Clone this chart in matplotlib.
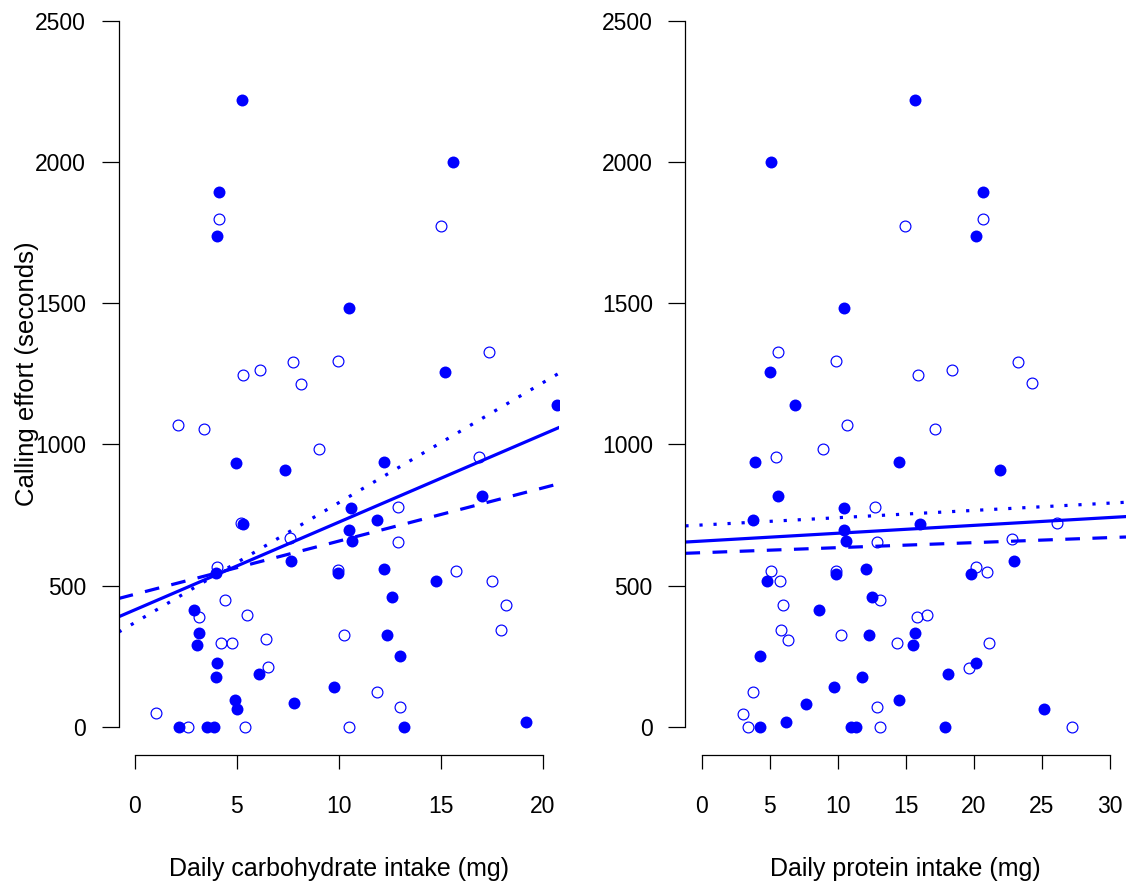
import matplotlib
matplotlib.use("Agg")
import matplotlib.pyplot as plt

plt.rcParams['font.family'] = ['Liberation Sans', 'DejaVu Sans']

# calling effort vs carbohydrate intake
carb_filled_x = [5.25, 15.59, 4.12, 4.03, 10.5, 15.2, 20.69, 4.94, 7.34, 12.21,
                 17.04, 10.58, 11.88, 5.28, 10.5, 10.65, 7.65, 3.97, 9.96, 12.21,
                 14.78, 12.61, 2.88, 3.13, 3.05, 12.36, 13.02, 4.03, 6.06, 3.97,
                 9.78, 4.92, 4.99, 7.82, 19.18, 2.17, 3.54, 3.9, 13.19]
carb_filled_y = [2220, 2000, 1894, 1739, 1483, 1256, 1140, 936, 908, 937,
                 816, 774, 733, 719, 698, 660, 588, 545, 544, 558,
                 518, 460, 414, 334, 291, 327, 251, 228, 188, 176,
                 142, 96, 64, 84, 19, 0, 0, 0, 0]
carb_open_x = [4.12, 15.03, 17.37, 5.32, 6.14, 7.75, 9.94, 8.15, 2.09, 3.37,
               9.05, 16.89, 12.92, 12.92, 7.6, 5.2, 4.03, 9.96, 15.77, 17.53,
               18.19, 17.94, 4.44, 3.13, 5.48, 4.2, 4.77, 6.45, 10.26, 6.53,
               11.87, 13.0, 1.04, 2.58, 5.4, 10.5]
carb_open_y = [1798, 1774, 1326, 1246, 1262, 1291, 1296, 1215, 1070, 1053,
               984, 957, 780, 654, 668, 723, 568, 556, 553, 518,
               431, 345, 449, 391, 397, 297, 297, 310, 327, 211,
               123, 71, 48, 0, 0, 0]

# calling effort vs protein intake
prot_filled_x = [15.7, 5.13, 20.67, 20.17, 10.44, 5.01, 6.84, 3.93, 14.54, 21.9,
                 5.6, 10.44, 3.8, 10.44, 16.02, 10.64, 22.94, 4.77, 9.85, 12.05,
                 19.83, 12.49, 8.64, 12.3, 15.7, 15.56, 4.27, 20.2, 11.78, 9.73,
                 18.12, 7.65, 14.54, 25.16, 4.27, 6.2, 11.01, 11.38, 17.88]
prot_filled_y = [2220, 2000, 1894, 1739, 1483, 1256, 1140, 937, 937, 908,
                 816, 774, 733, 698, 718, 660, 588, 518, 542, 560,
                 542, 460, 414, 327, 334, 291, 251, 228, 176, 141,
                 188, 83, 94, 65, 0, 19, 0, 0, 0]
prot_open_x = [20.67, 14.96, 5.6, 9.85, 15.93, 18.37, 23.23, 24.27, 10.72, 17.14,
               8.89, 5.48, 12.77, 26.12, 12.89, 22.84, 5.13, 5.73, 9.85, 20.2,
               21.01, 13.14, 5.98, 15.8, 16.54, 5.85, 6.35, 10.22, 14.35, 21.16,
               19.65, 3.8, 12.89, 3.06, 3.41, 13.14, 27.23]
prot_open_y = [1798, 1774, 1326, 1297, 1246, 1262, 1291, 1216, 1070, 1054,
               984, 955, 780, 721, 654, 666, 553, 518, 553, 568,
               548, 449, 431, 391, 397, 345, 309, 327, 297, 297,
               210, 123, 71, 47, 0, 0, 0]

# fitted lines: solid, dotted, dashed  (intercept, slope)
carb_fit_intercept = [415, 370, 470]
carb_fit_slope = [31.0, 42.4, 18.8]
prot_fit_intercept = [658, 715, 617]
prot_fit_slope = [2.78, 2.58, 1.78]

fit_styles = ['-', (0, (1, 3.4)), (0, (4.6, 3.9))]

y_ticks = [0, 500, 1000, 1500, 2000, 2500]
carb_ticks = [0, 5, 10, 15, 20]
prot_ticks = [0, 5, 10, 15, 20, 25, 30]

fig = plt.figure(figsize=(11.3, 8.88), dpi=100)
ax1 = fig.add_axes([0.10504, 0.14944, 0.38956, 0.8592])
ax2 = fig.add_axes([0.60655, 0.14944, 0.3899, 0.8592])

panels = [
    (ax1, carb_filled_x, carb_filled_y, carb_open_x, carb_open_y,
     carb_fit_intercept, carb_fit_slope, carb_ticks, 'Daily carbohydrate intake (mg)'),
    (ax2, prot_filled_x, prot_filled_y, prot_open_x, prot_open_y,
     prot_fit_intercept, prot_fit_slope, prot_ticks, 'Daily protein intake (mg)'),
]

for ax, fx, fy, ox, oy, icpt, slp, xt, xlab in panels:
    ax.plot(ox, oy, 'o', ms=7.8, mfc='none', mec='blue', mew=0.85, ls='none')
    ax.plot(fx, fy, 'o', ms=8.6, mfc='blue', mec='blue', mew=0, ls='none')
    for a, b, st in zip(icpt, slp, fit_styles):
        ax.axline((0, a), slope=b, color='blue', lw=2.3, ls=st)

    # R-style 4% padding around the axis range
    span = xt[-1] - xt[0]
    ax.set_xlim(xt[0] - 0.04 * span, xt[-1] + 0.04 * span)
    ax.set_ylim(-100, 2600)
    ax.set_xticks(xt)
    ax.set_yticks(y_ticks)
    for s in ['top', 'right']:
        ax.spines[s].set_visible(False)
    ax.spines['left'].set_bounds(0, 2500)
    ax.spines['bottom'].set_bounds(xt[0], xt[-1])
    for s in ['left', 'bottom']:
        ax.spines[s].set_linewidth(0.9)
    ax.tick_params(axis='y', length=12, width=0.9, pad=11.5, labelsize=16.5)
    ax.tick_params(axis='x', length=10.3, width=0.9, pad=18, labelsize=16.5)
    ax.set_xlabel(xlab, fontsize=18, va='center')
    ax.xaxis.set_label_coords(0.5, -0.1487)
    ax.patch.set_visible(False)

ax1.text(-0.2077, 0.5, 'Calling effort (seconds)', transform=ax1.transAxes,
         rotation=90, ha='center', va='center', fontsize=18.5)

fig.savefig('out.png', dpi=100)
